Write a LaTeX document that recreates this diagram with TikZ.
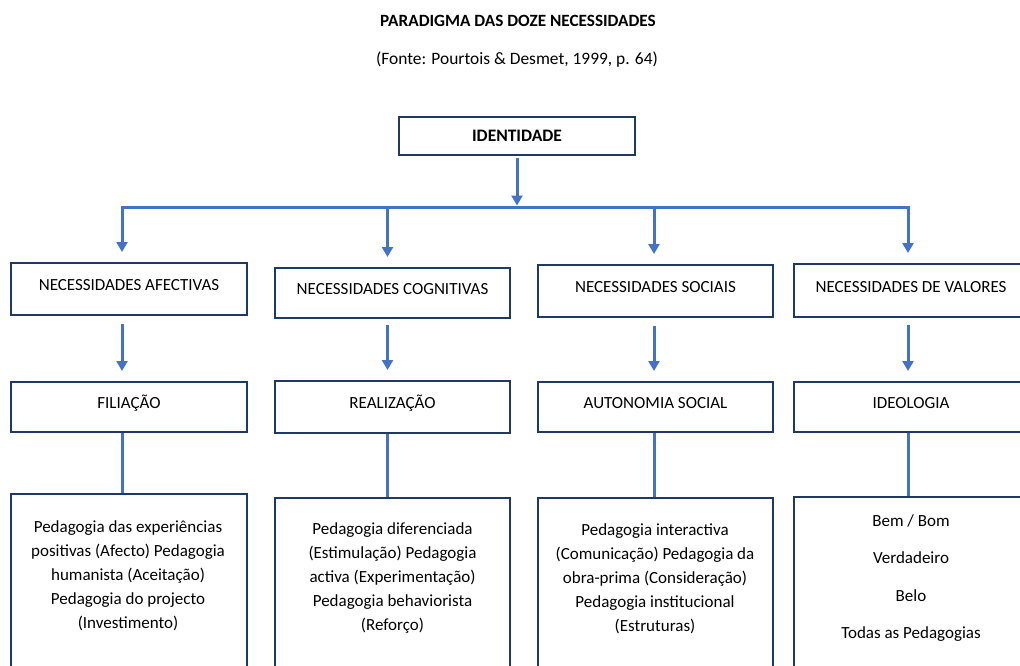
\documentclass[tikz,border=0pt]{standalone}
\usepackage{fontspec}
\setmainfont{Carlito}
\usetikzlibrary{arrows.meta,calc}
\definecolor{boxc}{HTML}{203864}
\definecolor{linec}{HTML}{4472C4}
\begin{document}
\begin{tikzpicture}[x=1pt,y=-1pt,
  box/.style={draw=boxc,line width=2pt,fill=white,inner sep=0pt,
    font=\fontsize{17}{20}\selectfont},
  lab/.style={text height=11.5pt,text depth=8pt},
  body/.style={align=center,font=\fontsize{17}{24}\selectfont},
  conn/.style={draw=linec,line width=3pt},
  arr/.style={conn,-{Triangle[width=11pt,length=10pt]}},
]
\useasboundingbox (0,0) rectangle (1020,666);
\clip (0,0) rectangle (1020,666);

% titles
\node[font=\bfseries\fontsize{17.2}{19}\selectfont] (title) at (518,20.5) {PARADIGMA DAS DOZE NECESSIDADES};
\node[font=\fontsize{17.4}{19}\selectfont] (src) at (517,59.5) {(Fonte: Pourtois \& Desmet, 1999, p. 64)};

% top box
\node[box,font=\bfseries\fontsize{17.5}{19}\selectfont,minimum width=236pt,minimum height=38pt] (id) at (517,136) {IDENTIDADE};

% row 1
\node[box,lab,minimum width=236pt,minimum height=52pt] (na) at (129,289) {NECESSIDADES AFECTIVAS};
\node[box,lab,minimum width=235pt,minimum height=50pt] (nc) at (392.5,293) {NECESSIDADES COGNITIVAS};
\node[box,lab,minimum width=235pt,minimum height=52pt] (ns) at (655.5,291) {NECESSIDADES SOCIAIS};
\node[box,lab,minimum width=234pt,minimum height=53pt] (nv) at (911,290.5) {NECESSIDADES DE VALORES};

% row 2
\node[box,lab,minimum width=236pt,minimum height=50pt] (fa) at (129,407) {FILIAÇÃO};
\node[box,lab,minimum width=235pt,minimum height=52pt] (fc) at (392.5,407) {REALIZAÇÃO};
\node[box,lab,minimum width=235pt,minimum height=50pt] (fs) at (655.5,407) {AUTONOMIA SOCIAL};
\node[box,lab,minimum width=234pt,minimum height=50pt] (fv) at (911,407) {IDEOLOGIA};

% row 3 boxes
\node[box,minimum width=236pt,minimum height=200pt] (pa) at (129,594) {};
\node[box,minimum width=235pt,minimum height=200pt] (pc) at (392.5,598) {};
\node[box,minimum width=235pt,minimum height=200pt] (ps) at (655.5,598) {};
\node[box,minimum width=234pt,minimum height=200pt] (pv) at (911,597) {};

% row 3 texts
\node[body] (ta) at (128,575.5) {Pedagogia das experiências\\positivas (Afecto) Pedagogia\\humanista (Aceitação)\\Pedagogia do projecto\\(Investimento)};
\node[body] (tc) at (392.5,578) {Pedagogia diferenciada\\(Estimulação) Pedagogia\\activa (Experimentação)\\Pedagogia behaviorista\\(Reforço)};
\node[body] (ts) at (655,578.5) {Pedagogia interactiva\\(Comunicação) Pedagogia da\\obra-prima (Consideração)\\Pedagogia institucional\\(Estruturas)};
\node[align=center,font=\fontsize{17}{37.5}\selectfont] (tv) at (911,578) {Bem / Bom\\Verdadeiro\\Belo\\Todas as Pedagogias};

% bus
\coordinate (bm) at (517,207);
\coordinate (b1) at (122,207);
\coordinate (b2) at (387.5,207);
\coordinate (b3) at (654,207);
\coordinate (b4) at (908,207);

\draw[arr] ($(id.south)+(0,2)$) -- ($(bm)+(0,-1.5)$);
\draw[arr] (bm) -- (b1) -- ($(b1 |- na.north)+(0,-10)$);
\draw[arr] (bm) -- (b4) -- ($(b4 |- nv.north)+(0,-10)$);
\draw[arr] ($(b2)+(0,-1.5)$) -- ($(b2 |- nc.north)+(0,-10)$);
\draw[arr] ($(b3)+(0,-1.5)$) -- ($(b3 |- ns.north)+(0,-10)$);

% row1 -> row2
\draw[arr] ($(b1 |- na.south)+(0,8)$) -- ($(b1 |- fa.north)+(0,-10)$);
\draw[arr] ($(b2 |- nc.south)+(0,6)$) -- ($(b2 |- fc.north)+(0,-10)$);
\draw[arr] ($(b3 |- ns.south)+(0,8)$) -- ($(b3 |- fs.north)+(0,-10)$);
\draw[arr] ($(b4 |- nv.south)+(0,7)$) -- ($(b4 |- fv.north)+(0,-10)$);

% row2 -> row3
\draw[conn] (b1 |- fa.south) -- (b1 |- pa.north);
\draw[conn] (b2 |- fc.south) -- (b2 |- pc.north);
\draw[conn] (b3 |- fs.south) -- (b3 |- ps.north);
\draw[conn] (b4 |- fv.south) -- (b4 |- pv.north);
\end{tikzpicture}
\end{document}
